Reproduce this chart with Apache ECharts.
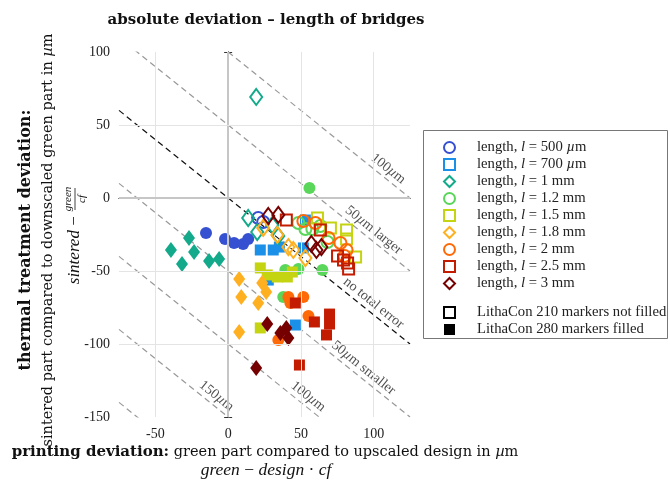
<!DOCTYPE html>
<html><head><meta charset="utf-8">
<script src="https://cdn.jsdelivr.net/npm/echarts@6/dist/echarts.min.js"></script>
<style>html,body{margin:0;padding:0;background:#fff}#c{width:670px;height:483px}</style>
</head><body><div id="c"></div>
<script>
const FONT = '"Liberation Serif", "Times New Roman", serif';
const FONT2 = '"DejaVu Serif", serif';
const cf = 1.25;
const xTicks = [-50, 0, 50, 100];
const yTicks = [-150, -100, -50, 0, 50, 100];
const xRange = [-75, 125];
const yRange = [-150, 100];
const errorLevels = [100, 50, 0, -50, -100, -150, -200];
const levelLabelTexts = ['100{i|µ}m', '50{i|µ}m larger', 'no total error', '50{i|µ}m smaller', '100{i|µ}m', '150{i|µ}m'];
const levelLabelLevels = [100, 50, 0, -50, -100, -150];
const levelLabelX = [110, 100, 100, 93, 55, -8];

const lengthValues = ['500', '700', '1', '1.2', '1.5', '1.8', '2', '2.5', '3'];
const lengthUnits = ['µm', 'µm', 'mm', 'mm', 'mm', 'mm', 'mm', 'mm', 'mm'];
const lengthColors = ['#3550d0', '#1a90e8', '#12aa8a', '#5ad65a', '#c4d410', '#ffb020', '#ff6a08', '#c41c00', '#760000'];
const lengthSymbols = ['circle', 'rect', 'diamond', 'circle', 'rect', 'diamond', 'circle', 'rect', 'diamond'];

// LithaCon 210 (open markers): [printing deviation, thermal deviation]
const lc210_l500 = [[20.7, -13.7], [24.1, -16.4]];
const lc210_l700 = [];
const lc210_l1000 = [[19.3, 69.2], [13.8, -13.7], [20.0, -23.3], [30.3, -18.5], [34.5, -26.0]];
const lc210_l1200 = [[48.3, -17.1], [53.1, -21.2], [57.9, -21.2], [68.3, -30.1], [63.4, -19.2]];
const lc210_l1500 = [[61.4, -13.7], [70.3, -20.5], [81.4, -21.9], [81.4, -28.1], [87.6, -40.4]];
const lc210_l1800 = [[24.1, -20.5], [33.8, -25.3], [41.4, -33.6], [44.8, -35.6], [53.1, -41.1]];
const lc210_l2000 = [[51.7, -15.8], [60.0, -17.1], [69.0, -27.4], [77.2, -30.8], [81.4, -35.6], [80.0, -39.7]];
const lc210_l2500 = [[40.0, -15.1], [63.4, -21.9], [75.2, -39.7], [79.3, -42.5], [82.1, -44.5], [82.8, -48.6]];
const lc210_l3000 = [[27.6, -12.3], [34.5, -11.6], [57.2, -31.5], [60.7, -35.6], [64.1, -33.6]];

// LithaCon 280 (filled markers)
const lc280_l500 = [[-15.2, -24.0], [-2.1, -28.1], [4.1, -30.8], [10.3, -31.5], [13.8, -28.1]];
const lc280_l700 = [[22.1, -35.6], [31.0, -35.6], [35.2, -33.6], [51.7, -34.2], [46.2, -87.0], [27.6, -56.2], [53.1, -15.1]];
const lc280_l1000 = [[-39.3, -35.6], [-26.9, -27.4], [-23.4, -37.0], [-31.7, -45.2], [-13.1, -43.2], [-6.2, -41.8]];
const lc280_l1200 = [[55.9, 6.8], [39.3, -49.3], [48.3, -48.6], [64.8, -49.3], [37.9, -67.8]];
const lc280_l1500 = [[22.1, -47.9], [26.9, -52.7], [33.8, -54.1], [40.7, -54.1], [44.1, -50.7], [22.1, -89.0]];
const lc280_l1800 = [[7.6, -55.5], [9.0, -67.8], [20.7, -71.9], [23.4, -58.2], [26.2, -64.4], [7.6, -91.8]];
const lc280_l2000 = [[41.4, -67.8], [51.7, -67.8], [55.2, -80.8], [34.5, -97.3], [42.8, -71.9]];
const lc280_l2500 = [[46.2, -71.9], [59.3, -84.9], [69.7, -79.5], [69.7, -86.3], [67.6, -93.8], [49.0, -114.4]];
const lc280_l3000 = [[26.9, -86.3], [35.9, -92.5], [40.0, -89.0], [41.4, -95.9], [19.3, -116.4]];

const lc210 = [lc210_l500, lc210_l700, lc210_l1000, lc210_l1200, lc210_l1500, lc210_l1800, lc210_l2000, lc210_l2500, lc210_l3000];
const lc280 = [lc280_l500, lc280_l700, lc280_l1000, lc280_l1200, lc280_l1500, lc280_l1800, lc280_l2000, lc280_l2500, lc280_l3000];

const GRID = {left: 119, top: 52, width: 291, height: 365};
const richI = {fontStyle: 'italic', fontFamily: FONT, fontSize: 14, color: '#222'};

function symSize(s) { return s === 'circle' ? 12 : (s === 'rect' ? 11 : [12, 16]); }
function lengthName(i) { return 'length, l = ' + lengthValues[i] + ' ' + lengthUnits[i]; }

const series = [];
// grid lines
series.push({
  type: 'line', data: [], silent: true, z: 0,
  markLine: {
    silent: true, symbol: 'none', animation: false, label: {show: false},
    data: xTicks.map(v => ({xAxis: v, lineStyle: {color: v === 0 ? '#c6c6c6' : '#e4e4e4', width: v === 0 ? 2 : 1, type: 'solid'}}))
      .concat(yTicks.filter(v => v > yRange[0] && v < yRange[1]).map(v => ({yAxis: v, lineStyle: {color: v === 0 ? '#c6c6c6' : '#e4e4e4', width: v === 0 ? 2 : 1, type: 'solid'}})))
  }
});
// total error reference lines
errorLevels.forEach(C => {
  series.push({
    type: 'line', silent: true, symbol: 'none', z: 1, clip: true,
    data: xRange.map(x => [x, C - x / cf]),
    lineStyle: {color: C === 0 ? '#111' : '#999', width: 1.2, type: [6, 4]}
  });
});
// labels for reference lines
series.push({
  type: 'scatter', silent: true, symbolSize: 0, z: 3,
  data: levelLabelLevels.map((C, i) => [levelLabelX[i], C - levelLabelX[i] / cf + 8, levelLabelTexts[i]]),
  label: {
    show: true, position: 'inside', rotate: -38.8,
    formatter: p => p.data[2],
    fontFamily: FONT, fontSize: 14, color: '#222',
    rich: {i: richI}
  }
});
// data
for (let i = 0; i < 9; i++) {
  const s = lengthSymbols[i];
  series.push({
    name: lengthName(i), type: 'scatter', symbol: s, symbolSize: symSize(s), z: 5,
    data: lc210[i],
    itemStyle: {color: 'rgba(0,0,0,0)', borderColor: lengthColors[i], borderWidth: 2, opacity: 1}
  });
  series.push({
    name: 'filled ' + lengthName(i), type: 'scatter', symbol: s, symbolSize: symSize(s), z: 4,
    data: lc280[i],
    itemStyle: {color: lengthColors[i], borderWidth: 0, opacity: 1}
  });
}
series.push({name: 'LithaCon 210 markers not filled', type: 'scatter', symbol: 'rect', data: [],
  itemStyle: {color: 'rgba(0,0,0,0)', borderColor: '#000', borderWidth: 2, opacity: 1}});
series.push({name: 'LithaCon 280 markers filled', type: 'scatter', symbol: 'rect', data: [],
  itemStyle: {color: '#000', opacity: 1}});

const legendRich = {
  s: {width: 17, fontSize: 14.7, fontFamily: FONT},
  t: {fontSize: 14.7, fontFamily: FONT, color: '#222', lineHeight: 12},
  i: {fontSize: 14.7, fontFamily: FONT, fontStyle: 'italic', color: '#222', lineHeight: 12}
};

const axisCommon = {
  axisLine: {show: true, lineStyle: {color: '#444', width: 1}},
  splitLine: {show: false}
};

const option = {
  animation: false,
  backgroundColor: '#fff',
  grid: GRID,
  xAxis: [
    Object.assign({type: 'value', min: xRange[0], max: xRange[1], position: 'bottom',
      axisTick: {inside: true, length: 4, customValues: xTicks, lineStyle: {color: '#333'}},
      axisLabel: {customValues: xTicks, fontFamily: FONT, fontSize: 14, color: '#222', margin: 10}}, axisCommon),
    Object.assign({type: 'value', min: xRange[0], max: xRange[1], position: 'top',
      axisTick: {inside: true, length: 4, customValues: xTicks, lineStyle: {color: '#333'}},
      axisLabel: {show: false}}, axisCommon)
  ],
  yAxis: [
    Object.assign({type: 'value', min: yRange[0], max: yRange[1], interval: 50, position: 'left',
      axisTick: {inside: true, length: 4, lineStyle: {color: '#333'}},
      axisLabel: {fontFamily: FONT, fontSize: 14, color: '#222', margin: 9}}, axisCommon),
    Object.assign({type: 'value', min: yRange[0], max: yRange[1], interval: 50, position: 'right',
      axisTick: {inside: true, length: 4, lineStyle: {color: '#333'}},
      axisLabel: {show: false}}, axisCommon)
  ],
  legend: [
    {
      data: lengthValues.map((v, i) => lengthName(i)),
      orient: 'vertical', left: 438, top: 135, itemGap: 2, itemWidth: 11, itemHeight: 11,
      selectedMode: false,
      formatter: name => {
        const i = lengthValues.findIndex((v, k) => lengthName(k) === name);
        const unit = lengthUnits[i] === 'µm' ? '{i|µ}{t|m}' : '{t|mm}';
        return '{s|}{t|length, }{i|l}{t| = ' + lengthValues[i] + ' }' + unit;
      },
      textStyle: {rich: legendRich, fontFamily: FONT, fontSize: 14.7}
    },
    {
      data: ['LithaCon 210 markers not filled', 'LithaCon 280 markers filled'],
      orient: 'vertical', left: 438, top: 300, itemGap: 2, itemWidth: 11, itemHeight: 11,
      selectedMode: false,
      formatter: name => '{s|}{t|' + name + '}',
      textStyle: {rich: legendRich, fontFamily: FONT, fontSize: 14.7}
    }
  ],
  graphic: [
    {type: 'rect', shape: {x: 423.5, y: 130.5, width: 244, height: 208}, style: {fill: 'none', stroke: '#777', lineWidth: 1}, silent: true},
    {type: 'text', x: 266, y: 20, style: {text: 'absolute deviation – length of bridges', fontFamily: FONT2, fontSize: 15, fontWeight: 'bold', fill: '#111', align: 'center', verticalAlign: 'middle'}},
    {type: 'text', x: 265, y: 452, style: {
      text: '{b|printing deviation:} green part compared to upscaled design in {i|µ}m',
      fontFamily: FONT2, fontSize: 14.5, fill: '#111', align: 'center', verticalAlign: 'middle',
      rich: {b: {fontWeight: 'bold', fontFamily: FONT2, fontSize: 15, fill: '#111'}, i: {fontStyle: 'italic', fontFamily: FONT2, fontSize: 14.5, fill: '#111'}}
    }},
    {type: 'text', x: 266, y: 470, style: {
      text: '{i|green} − {i|design} · {i|cf}',
      fontFamily: FONT, fontSize: 17.5, fill: '#111', align: 'center', verticalAlign: 'middle',
      rich: {i: {fontStyle: 'italic', fontFamily: FONT, fontSize: 17.5, fill: '#111'}}
    }},
    {type: 'group', x: 26, y: 240, rotation: Math.PI / 2, children: [
      {type: 'text', x: 0, y: 0, style: {text: 'thermal treatment deviation:', fontFamily: FONT2, fontSize: 16, fontWeight: 'bold', fill: '#111', align: 'center', verticalAlign: 'middle'}},
      {type: 'text', x: 0, y: 22, style: {
        text: 'sintered part compared to downscaled green part in {i|µ}m',
        fontFamily: FONT2, fontSize: 14.5, fill: '#111', align: 'center', verticalAlign: 'middle',
        rich: {i: {fontStyle: 'italic', fontFamily: FONT2, fontSize: 14.5, fill: '#111'}}
      }},
      {type: 'text', x: 28, y: 49, style: {
        text: '{i|sintered} − ', fontFamily: FONT, fontSize: 17, fill: '#111', align: 'right', verticalAlign: 'middle',
        rich: {i: {fontStyle: 'italic', fontFamily: FONT, fontSize: 17, fill: '#111'}}
      }},
      {type: 'text', x: 41, y: 42, style: {text: 'green', fontFamily: FONT, fontSize: 11, fontStyle: 'italic', fill: '#111', align: 'center', verticalAlign: 'middle'}},
      {type: 'line', shape: {x1: 30, y1: 49, x2: 52, y2: 49}, style: {stroke: '#111', lineWidth: 0.8}},
      {type: 'text', x: 41, y: 56, style: {text: 'cf', fontFamily: FONT, fontSize: 11, fontStyle: 'italic', fill: '#111', align: 'center', verticalAlign: 'middle'}}
    ]}
  ],
  series: series
};

const chart = echarts.init(document.getElementById('c'), null, {renderer: 'canvas'});
chart.setOption(option);
</script></body></html>
